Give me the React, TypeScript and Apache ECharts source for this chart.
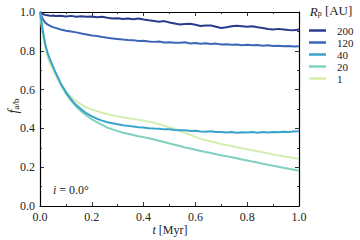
import React, { useEffect, useRef } from "react";
import * as echarts from "echarts";

const T = [0, 0.01, 0.02, 0.03, 0.04, 0.05, 0.06, 0.08, 0.1, 0.12, 0.14, 0.16, 0.18, 0.2, 0.22, 0.24, 0.26, 0.28, 0.3, 0.32, 0.34, 0.36, 0.38, 0.4, 0.42, 0.44, 0.46, 0.48, 0.5, 0.52, 0.54, 0.56, 0.58, 0.6, 0.62, 0.64, 0.66, 0.68, 0.7, 0.72, 0.74, 0.76, 0.78, 0.8, 0.82, 0.84, 0.86, 0.88, 0.9, 0.92, 0.94, 0.96, 0.98, 1.0];

const F200 = [1.0, 0.99, 0.985, 0.983, 0.98, 0.982, 0.979, 0.981, 0.977, 0.98, 0.976, 0.978, 0.975, 0.977, 0.973, 0.975, 0.97, 0.966, 0.968, 0.964, 0.967, 0.963, 0.966, 0.961, 0.957, 0.954, 0.95, 0.953, 0.946, 0.941, 0.936, 0.938, 0.939, 0.934, 0.928, 0.931, 0.93, 0.924, 0.918, 0.921, 0.926, 0.929, 0.927, 0.924, 0.926, 0.921, 0.918, 0.912, 0.91, 0.913, 0.91, 0.907, 0.906, 0.91];
const F120 = [1.0, 0.965, 0.945, 0.935, 0.928, 0.922, 0.918, 0.91, 0.903, 0.899, 0.895, 0.889, 0.884, 0.879, 0.876, 0.871, 0.867, 0.864, 0.861, 0.858, 0.856, 0.855, 0.851, 0.852, 0.848, 0.846, 0.848, 0.843, 0.844, 0.842, 0.841, 0.844, 0.838, 0.84, 0.836, 0.839, 0.835, 0.837, 0.833, 0.834, 0.831, 0.833, 0.829, 0.831, 0.828, 0.83, 0.826, 0.828, 0.825, 0.826, 0.823, 0.825, 0.822, 0.823];
const F40 = [1.0, 0.91, 0.835, 0.785, 0.75, 0.72, 0.688, 0.632, 0.587, 0.55, 0.52, 0.497, 0.477, 0.462, 0.45, 0.44, 0.432, 0.427, 0.421, 0.416, 0.413, 0.41, 0.406, 0.405, 0.401, 0.399, 0.398, 0.395, 0.396, 0.392, 0.39, 0.391, 0.387, 0.388, 0.384, 0.383, 0.385, 0.381, 0.382, 0.379, 0.381, 0.378, 0.38, 0.379, 0.382, 0.378, 0.381, 0.379, 0.382, 0.38, 0.383, 0.381, 0.384, 0.385];
const F20 = [1.0, 0.9, 0.83, 0.78, 0.745, 0.713, 0.68, 0.625, 0.58, 0.543, 0.512, 0.487, 0.465, 0.447, 0.432, 0.418, 0.404, 0.395, 0.386, 0.378, 0.372, 0.366, 0.36, 0.355, 0.349, 0.343, 0.336, 0.33, 0.322, 0.316, 0.309, 0.302, 0.296, 0.29, 0.284, 0.278, 0.273, 0.267, 0.262, 0.256, 0.251, 0.246, 0.24, 0.235, 0.229, 0.224, 0.218, 0.213, 0.207, 0.202, 0.197, 0.192, 0.187, 0.182];
const F1 = [1.0, 0.89, 0.815, 0.765, 0.73, 0.7, 0.675, 0.625, 0.59, 0.562, 0.54, 0.522, 0.508, 0.497, 0.489, 0.481, 0.474, 0.467, 0.462, 0.457, 0.452, 0.448, 0.445, 0.441, 0.435, 0.429, 0.422, 0.414, 0.405, 0.398, 0.388, 0.377, 0.367, 0.356, 0.346, 0.339, 0.332, 0.326, 0.32, 0.314, 0.309, 0.303, 0.298, 0.293, 0.287, 0.282, 0.277, 0.272, 0.266, 0.261, 0.256, 0.251, 0.247, 0.244];

const NAMES = ["200", "120", "40", "20", "1"];
const VALUES = [F200, F120, F40, F20, F1];
const COLORS = ["#2a3b8c", "#3d66b6", "#38a3cb", "#7fd0bf", "#d4eeb2"];
const ZS = [3, 4, 7, 5, 6];

const FONT = "serif";

export default function App() {
  const ref = useRef<HTMLDivElement>(null);
  useEffect(() => {
    const chart = echarts.init(ref.current!, null, { renderer: "svg" });
    const axisCommon = {
      type: "value",
      min: 0,
      max: 1,
      interval: 0.2,
      axisLine: { show: true, onZero: false, lineStyle: { color: "#000", width: 1.2 } },
      axisTick: { show: true, inside: true, length: 4, lineStyle: { color: "#000", width: 0.8 } },
      minorTick: { show: true, splitNumber: 2, length: 2, lineStyle: { color: "#000", width: 0.8 } },
      splitLine: { show: false },
    };
    const label = { fontFamily: FONT, fontSize: 12, color: "#222" };
    chart.setOption({
      animation: false,
      backgroundColor: "#fff",
      grid: { left: 40, right: 61, top: 12, bottom: 34 },
      xAxis: [
        { ...axisCommon, position: "bottom", axisLabel: { ...label, margin: 5, formatter: (v: number) => v.toFixed(1) } },
        { ...axisCommon, position: "top", axisLabel: { show: false } },
      ],
      yAxis: [
        { ...axisCommon, position: "left", axisLabel: { ...label, margin: 5, formatter: (v: number) => v.toFixed(1) } },
        { ...axisCommon, position: "right", axisLabel: { show: false } },
      ],
      legend: {
        orient: "vertical",
        left: 304,
        top: 20,
        itemWidth: 17,
        itemHeight: 2.5,
        itemGap: 1,
        icon: "rect",
        data: NAMES,
        textStyle: { fontFamily: FONT, fontSize: 11, color: "#222", lineHeight: 10, padding: [0, 0, 0, 6] },
      },
      series: NAMES.map((n, k) => ({
        name: n,
        type: "line",
        xAxisIndex: 0,
        yAxisIndex: 0,
        symbol: "none",
        z: ZS[k],
        data: T.map((t, i) => [t, VALUES[k][i]]),
        lineStyle: { color: COLORS[k], width: 2 },
        itemStyle: { color: COLORS[k] },
      })),
      graphic: [
        {
          type: "text",
          x: 12,
          y: 106,
          rotation: Math.PI / 2,
          style: {
            text: "{f|f}{s|a/b}",
            align: "center",
            verticalAlign: "middle",
            fill: "#222",
            rich: {
              f: { fontFamily: FONT, fontSize: 14, fontStyle: "italic", lineHeight: 16, verticalAlign: "bottom", fill: "#222" },
              s: { fontFamily: FONT, fontSize: 9, lineHeight: 10, verticalAlign: "bottom", fill: "#222" },
            },
          },
        },
        {
          type: "text",
          x: 170,
          y: 230,
          style: {
            text: "{i|t} [Myr]",
            align: "center",
            verticalAlign: "middle",
            font: "12px serif",
            fill: "#222",
            rich: { i: { fontFamily: FONT, fontSize: 12, fontStyle: "italic", fill: "#222" } },
          },
        },
        {
          type: "text",
          x: 331,
          y: 10,
          style: {
            text: "{i|R}{s|p} [AU]",
            align: "center",
            verticalAlign: "middle",
            font: "13px serif",
            fill: "#222",
            rich: {
              i: { fontFamily: FONT, fontSize: 13, fontStyle: "italic", lineHeight: 15, verticalAlign: "bottom", fill: "#222" },
              s: { fontFamily: FONT, fontSize: 8, lineHeight: 8, verticalAlign: "bottom", fill: "#222" },
            },
          },
        },
        {
          type: "text",
          x: 53,
          y: 190,
          style: {
            text: "{i|i} = 0.0°",
            align: "left",
            verticalAlign: "middle",
            font: "12px serif",
            fill: "#222",
            rich: { i: { fontFamily: FONT, fontSize: 12, fontStyle: "italic", fill: "#222" } },
          },
        },
      ],
    });
    return () => chart.dispose();
  }, []);
  return <div ref={ref} style={{ width: 360, height: 240, position: "absolute", left: 0, top: 0 }} />;
}
